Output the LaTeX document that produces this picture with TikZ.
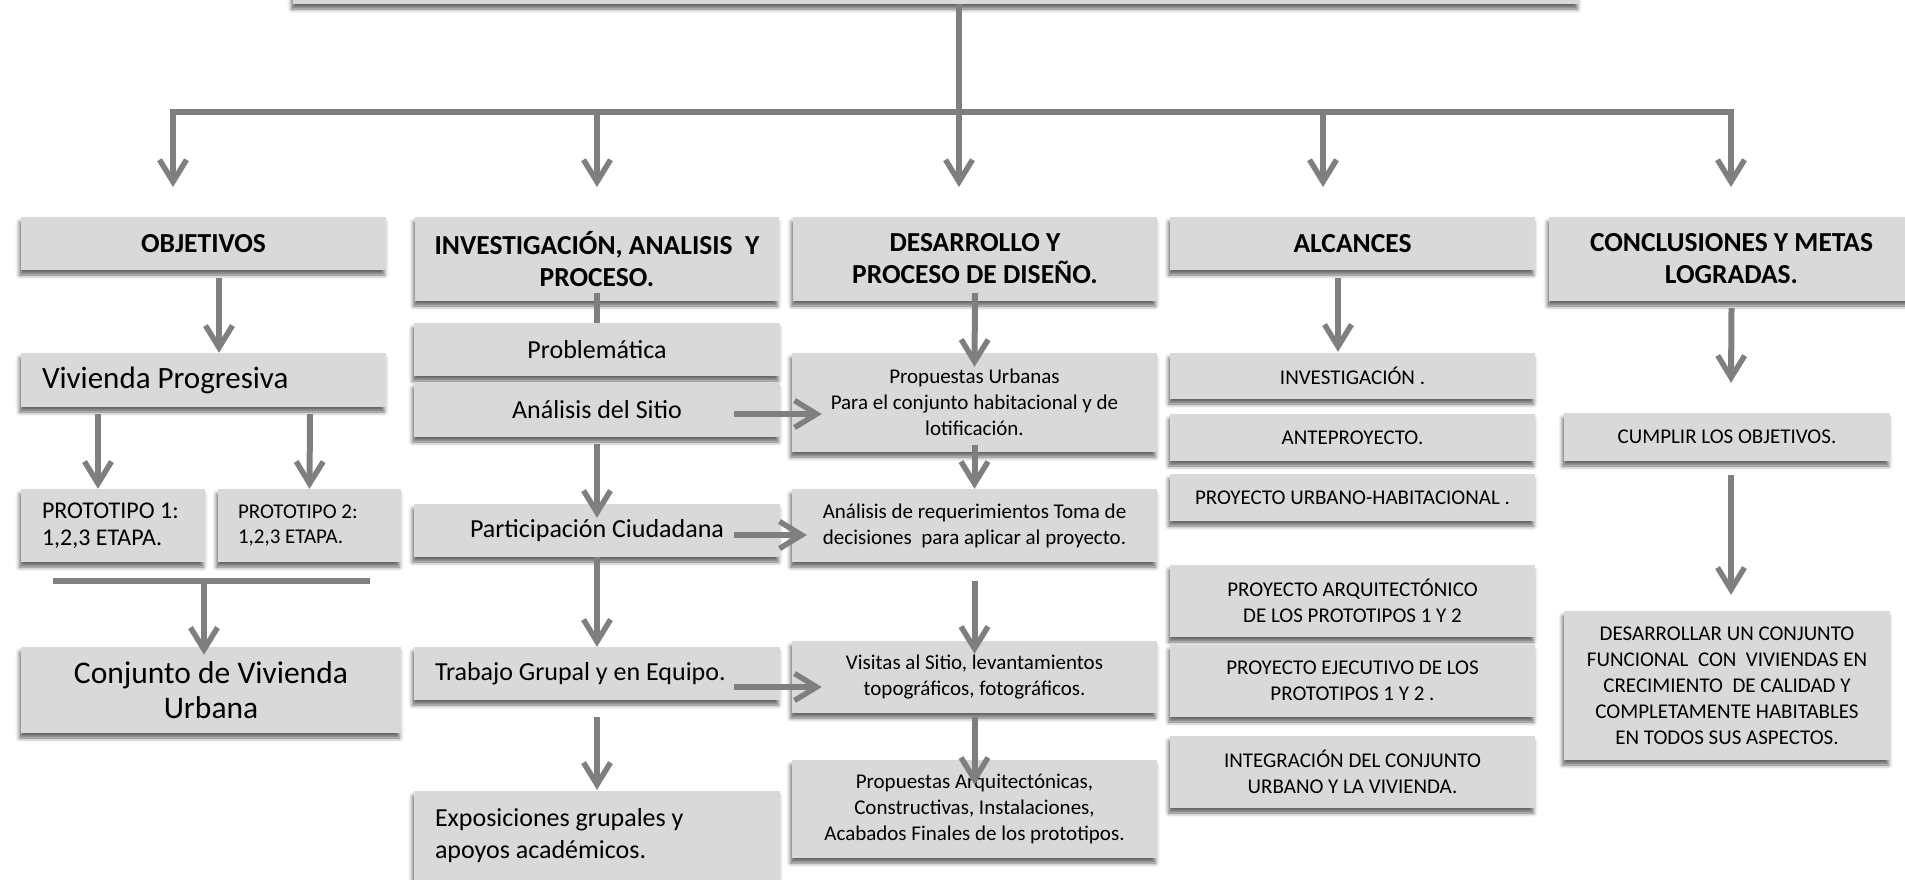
\documentclass[tikz,border=0pt]{standalone}
\usepackage{fontspec}
\setmainfont{Carlito}
\usetikzlibrary{arrows.meta,shadows.blur}

\definecolor{boxfill}{HTML}{D9D9D9}
\definecolor{linegray}{HTML}{7F7F7F}

\tikzset{
  barb/.tip={Straight Barb[length=22pt,width=27pt,line width=5.5pt]},
  card/.style={fill=boxfill, draw=none, inner sep=0pt, align=center, text=black,
    blur shadow={shadow xshift=-1.5pt, shadow yshift=-5pt, shadow blur radius=4pt, shadow opacity=60}},
  headbox/.style={card, font=\fontsize{27.5}{32}\selectfont\bfseries},
  itembox/.style={card, font=\fontsize{26}{32}\selectfont, minimum width=366pt},
  leftbox/.style={itembox, align=flush left, inner xsep=21pt, text width=324pt},
  smallbox/.style={card, font=\fontsize{21}{26}\selectfont, minimum width=365pt},
  conn/.style={draw=linegray, line width=6pt},
  arr/.style={conn, -barb},
  arrboth/.style={conn, barb-barb},
}

\begin{document}
\begin{tikzpicture}[x=1pt, y=-1pt]
\useasboundingbox (0,0) rectangle (1905,879);
\clip (0,0) rectangle (1905,879);

% title box along the top edge
\node[card, minimum width=1286pt, minimum height=70pt] (top) at (936,-31) {};

% column heads
\node[headbox, minimum width=365pt, minimum height=53pt] (obj) at (203.5,243.5) {OBJETIVOS};
\node[headbox, minimum width=364pt, minimum height=84pt] (inv) at (597,259) {INVESTIGACIÓN, ANALISIS\ \ Y\\PROCESO.};
\node[headbox, minimum width=364pt, minimum height=84pt] (des) at (975,259) {DESARROLLO Y\\PROCESO DE DISEÑO.};
\node[headbox, minimum width=365pt, minimum height=53pt] (alc) at (1352.5,243.5) {ALCANCES};
\node[headbox, minimum width=365pt, minimum height=84pt] (con) at (1731.5,259) {CONCLUSIONES Y METAS\\LOGRADAS.};

% objetivos
\node[card, font=\fontsize{31}{36}\selectfont, align=flush left, inner xsep=21pt, text width=323pt, minimum height=54pt] (viv) at (203.5,380) {Vivienda Progresiva};
\node[card, font=\fontsize{24}{27}\selectfont, align=flush left, inner xsep=21pt, text width=142pt, minimum height=73pt] (p1) at (113,525.5) {PROTOTIPO 1:\\1,2,3 ETAPA.};
\node[card, font=\fontsize{21}{25}\selectfont, align=flush left, inner xsep=20pt, text width=143pt, minimum height=73pt] (p2) at (309.5,525.5) {PROTOTIPO 2:\\1,2,3 ETAPA.};
\node[card, font=\fontsize{31.5}{35}\selectfont, minimum width=380pt, minimum height=86pt] (conj) at (211,690) {Conjunto de Vivienda\\Urbana};

% investigacion
\node[itembox, minimum height=53pt] (prob) at (597,349.5) {Problemática};
\node[itembox, minimum height=54pt] (ana) at (597,410) {Análisis del Sitio};
\node[itembox, minimum height=53pt] (par) at (597,530.5) {Participación Ciudadana};
\node[leftbox, minimum height=53pt] (tra) at (597,673.5) {Trabajo Grupal y en Equipo.};
\node[leftbox, minimum height=89pt] (exp) at (597,835.5) {Exposiciones grupales y\\apoyos académicos.};

% desarrollo
\node[smallbox, minimum height=99pt] (pu) at (974.5,402.5) {Propuestas Urbanas\\Para el conjunto habitacional y de\\lotificación.};
\node[smallbox, minimum height=73pt] (ar) at (974.5,525.5) {Análisis de requerimientos Toma de\\decisiones\ \ para aplicar al proyecto.};
\node[smallbox, minimum height=72pt] (vis) at (974.5,677) {Visitas al Sitio, levantamientos\\topográficos, fotográficos.};
\node[smallbox, minimum height=98pt] (pa) at (974.5,809) {Propuestas Arquitectónicas,\\Constructivas, Instalaciones,\\Acabados Finales de los prototipos.};

% alcances
\node[smallbox, minimum height=46pt] (al1) at (1352.5,376) {INVESTIGACIÓN .};
\node[smallbox, minimum height=47pt] (al2) at (1352.5,437.5) {ANTEPROYECTO.};
\node[smallbox, minimum height=47pt] (al3) at (1352.5,497.5) {PROYECTO URBANO-HABITACIONAL .};
\node[smallbox, minimum height=72pt] (al4) at (1352.5,601) {PROYECTO ARQUITECTÓNICO\\DE LOS PROTOTIPOS 1 Y 2};
\node[smallbox, minimum height=72pt] (al5) at (1352.5,681) {PROYECTO EJECUTIVO DE LOS\\PROTOTIPOS 1 Y 2 .};
\node[smallbox, minimum height=72pt] (al6) at (1352.5,772) {INTEGRACIÓN DEL CONJUNTO\\URBANO Y LA VIVIENDA.};

% conclusiones
\node[smallbox, minimum width=326pt, minimum height=48pt] (cu) at (1727,437) {CUMPLIR LOS OBJETIVOS.};
\node[smallbox, minimum width=326pt, minimum height=149pt] (dc) at (1727,685.5) {DESARROLLAR UN CONJUNTO\\FUNCIONAL\ \ CON\ \ VIVIENDAS EN\\CRECIMIENTO\ \ DE CALIDAD Y\\COMPLETAMENTE HABITABLES\\EN TODOS SUS ASPECTOS.};

% main branching
\coordinate (hub) at (959,112);
\coordinate (d1) at (173,187);
\coordinate (d2) at (597,187);
\coordinate (d3) at (959,187);
\coordinate (d4) at (1323,187);
\coordinate (d5) at (1731,187);
\draw[conn] ([xshift=23pt]top.south) -- (hub);
\draw[arrboth] (d1) |- (hub) -| (d5);
\draw[arr] (hub -| d2) -- (d2);
\draw[arr] (hub) -- (d3);
\draw[arr] (hub -| d4) -- (d4);

% objetivos links
\draw[arr] ([xshift=15.5pt,yshift=-8pt]obj.south) -- ([xshift=15.5pt]viv.north);
\draw[arr] ([xshift=-105.5pt,yshift=-7pt]viv.south) -- ([xshift=-15pt]p1.north);
\draw[arr] ([xshift=106.5pt,yshift=-7pt]viv.south) -- (p2.north);
\coordinate (barL) at (53,581);
\coordinate (barR) at (370,581);
\coordinate (barM) at (204,581);
\draw[conn] (barL) -- (barR);
\draw[arr] (barM) -- ([xshift=-7pt,yshift=-8pt]conj.north);

% investigacion links
\draw[conn] ([yshift=8pt]inv.south) -- (prob.north);
\draw[arr] ([yshift=-7pt]ana.south) -- ([yshift=-14pt]par.north);
\draw[arr] (par.south) -- (tra.north);
\draw[arr] ([yshift=-17pt]tra.south) -- ([yshift=1pt]exp.north);

% cross links
\draw[arr] ([xshift=-46pt,yshift=-4pt]ana.east) -- ([xshift=30pt,yshift=-11.5pt]pu.west);
\draw[arr] ([xshift=-46pt,yshift=-4.5pt]par.east) -- ([xshift=15pt,yshift=-9.5pt]ar.west);
\draw[arr] ([xshift=-46pt,yshift=-13.5pt]tra.east) -- ([xshift=30pt,yshift=-10pt]vis.west);

% desarrollo links
\draw[arr] ([yshift=8pt]des.south) -- ([yshift=-14pt]pu.north);
\draw[arr] ([yshift=7pt]pu.south) -- (ar.north);
\draw[arr] ([yshift=-19pt]ar.south) -- ([yshift=-13pt]vis.north);
\draw[arr] ([yshift=-4pt]vis.south) -- ([yshift=-25pt]pa.north);

% alcances link
\draw[arr] ([xshift=-14.5pt,yshift=-8pt]alc.south) -- ([xshift=-14.5pt,yshift=1pt]al1.north);

% conclusiones links
\draw[arr] ([yshift=-7pt]con.south) -- ([xshift=4pt,yshift=30pt]cu.north);
\draw[arr] ([xshift=4pt,yshift=-14pt]cu.south) -- ([xshift=4pt,yshift=16pt]dc.north);
\end{tikzpicture}
\end{document}
